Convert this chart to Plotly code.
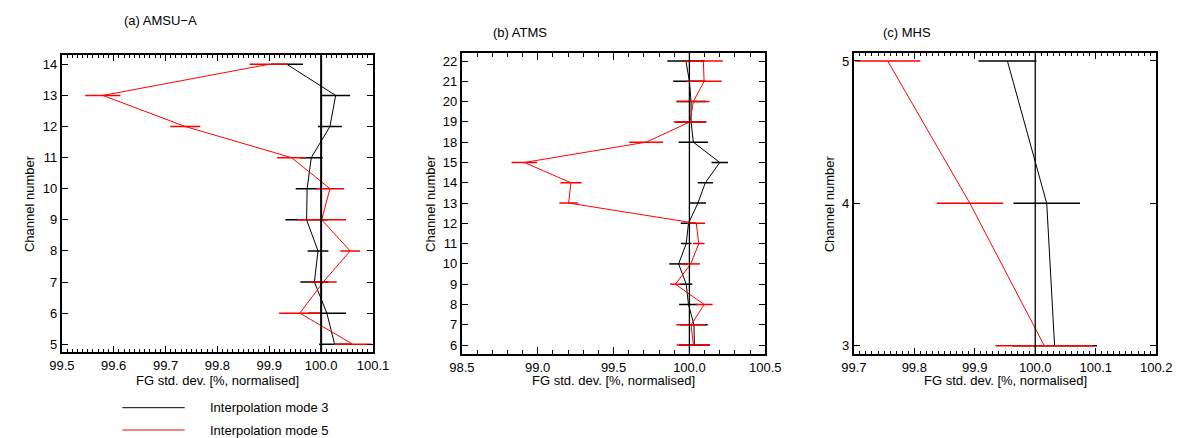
import plotly.graph_objects as go

# ---------------- data ----------------
# (a) AMSU-A
channels_a = [5, 6, 7, 8, 9, 10, 11, 12, 13, 14]
mode3_a = [100.026, 100.011, 99.987, 99.994, 99.972, 99.973, 99.981, 100.017, 100.028, 99.934]
err3_a = [0.030, 0.037, 0.027, 0.020, 0.041, 0.022, 0.022, 0.023, 0.028, 0.031]
mode5_a = [100.061, 99.959, 100.004, 100.056, 100.001, 100.017, 99.943, 99.738, 99.579, 99.899]
err5_a = [0.036, 0.040, 0.026, 0.019, 0.047, 0.027, 0.028, 0.029, 0.034, 0.037]

# (b) ATMS
channels_b = ["6", "7", "8", "9", "10", "11", "12", "13", "14", "15", "18", "19", "20", "21", "22"]
mode3_b = [100.033, 100.030, 99.994, 99.979, 99.929, 99.979, 99.994, 100.056, 100.105, 100.200,
           100.026, 100.011, 100.011, 100.000, 99.977]
err3_b = [0.102, 0.091, 0.062, 0.040, 0.062, 0.035, 0.051, 0.054, 0.050, 0.054,
          0.097, 0.100, 0.097, 0.107, 0.123]
mode5_b = [100.026, 100.011, 100.097, 99.908, 100.009, 100.062, 100.045, 99.204, 99.219, 98.912,
           99.715, 100.004, 100.026, 100.097, 100.092]
err5_b = [0.110, 0.097, 0.056, 0.035, 0.061, 0.038, 0.059, 0.061, 0.070, 0.084,
          0.112, 0.107, 0.107, 0.116, 0.128]

# (c) MHS
channels_c = [3, 4, 5]
mode3_c = [100.032, 100.019, 99.954]
err3_c = [0.070, 0.055, 0.048]
mode5_c = [100.015, 99.892, 99.756]
err5_c = [0.081, 0.055, 0.054]

titles = ["(a) AMSU\u2212A", "(b) ATMS", "(c) MHS"]
legend_labels = ["Interpolation mode 3", "Interpolation mode 5"]
x_title = "FG std. dev. [%, normalised]"
y_title = "Channel number"

# ---------------- figure ----------------
W, H = 1194, 438
FONT = "Liberation Sans, Arial, Helvetica, sans-serif"
fig = go.Figure()

def px_x(p):
    return p / W

def px_y(p):
    return 1 - p / H

panels = [
    dict(xa="x", ya="y", dom_x=(50, 369), dom_y=(55, 352),
         ch=channels_a, m3=mode3_a, e3=err3_a, m5=mode5_a, e5=err5_a),
    dict(xa="x2", ya="y2", dom_x=(460, 771), dom_y=(52.7, 354),
         ch=channels_b, m3=mode3_b, e3=err3_b, m5=mode5_b, e5=err5_b),
    dict(xa="x3", ya="y3", dom_x=(861.7, 1171.7), dom_y=(53.3, 354),
         ch=channels_c, m3=mode3_c, e3=err3_c, m5=mode5_c, e5=err5_c),
]

for p in panels:
    for vals, errs, col in [(p["m3"], p["e3"], "black"), (p["m5"], p["e5"], "red")]:
        fig.add_trace(go.Scatter(
            x=vals, y=p["ch"], xaxis=p["xa"], yaxis=p["ya"], mode="lines",
            line=dict(color=col, width=1),
            error_x=dict(type="data", array=errs, visible=True, color=col,
                         thickness=1.5, width=0),
            showlegend=False, hoverinfo="skip"))

common_axis = dict(showline=True, linecolor="black", linewidth=2, mirror="ticks",
                   ticks="inside", tickcolor="black", tickwidth=1.2,
                   showgrid=False, zeroline=False,
                   tickfont=dict(family=FONT, size=13, color="black"))

# x axes
fig.update_layout(
    xaxis=dict(common_axis, domain=[px_x(50), px_x(369)], anchor="y",
               range=[99.4999, 100.1001], tick0=99.5, dtick=0.1, tickformat=".1f", ticklen=6,
               minor=dict(dtick=0.01, tick0=99.5, ticklen=3, ticks="inside", tickcolor="black", tickwidth=1)),
    xaxis2=dict(common_axis, domain=[px_x(460), px_x(771)], anchor="y2",
                range=[98.4999, 100.5001], tick0=98.5, dtick=0.5, tickformat=".1f", ticklen=7,
                minor=dict(dtick=0.1, tick0=98.5, ticklen=4, ticks="inside", tickcolor="black", tickwidth=1)),
    xaxis3=dict(common_axis, domain=[px_x(861.7), px_x(1171.7)], anchor="y3",
                range=[99.6999, 100.2001], tick0=99.7, dtick=0.1, tickformat=".1f", ticklen=6,
                minor=dict(dtick=0.01, tick0=99.7, ticklen=3, ticks="inside", tickcolor="black", tickwidth=1)),
    yaxis=dict(common_axis, domain=[px_y(352), px_y(55)], anchor="x",
               range=[4.75, 14.3], dtick=1, ticklen=6),
    yaxis2=dict(common_axis, domain=[px_y(354), px_y(52.7)], anchor="x2",
                type="category", categoryorder="array", categoryarray=channels_b,
                range=[-0.44, 14.41], ticklen=6),
    yaxis3=dict(common_axis, domain=[px_y(354), px_y(53.3)], anchor="x3",
                range=[2.942, 5.054], dtick=1, ticklen=6),
)

# reference lines at 100 %
for xa, ya, w in [("x", "y", 2), ("x2", "y2", 1.3), ("x3", "y3", 1.3)]:
    fig.add_shape(type="line", xref=xa, yref=ya + " domain", x0=100, x1=100, y0=0, y1=1,
                  line=dict(color="black", width=w), layer="above")

ann = []
# panel titles
for t, x, y in [(titles[0], 112, 21), (titles[1], 490, 32), (titles[2], 890, 32)]:
    ann.append(dict(text=t, x=px_x(x), y=px_y(y), xref="paper", yref="paper",
                    xanchor="left", yanchor="middle", showarrow=False,
                    font=dict(family=FONT, size=13, color="black")))
# axis titles
for p, yx in zip(panels, [17, 428, 837]):
    cx = (p["dom_x"][0] + p["dom_x"][1]) / 2
    cy = (p["dom_y"][0] + p["dom_y"][1]) / 2
    ann.append(dict(text=x_title, x=px_x(cx), y=px_y(380.5), xref="paper", yref="paper",
                    xanchor="center", yanchor="middle", showarrow=False,
                    font=dict(family=FONT, size=13, color="black")))
    ann.append(dict(text=y_title, x=px_x(yx), y=px_y(cy), xref="paper", yref="paper",
                    xanchor="center", yanchor="middle", showarrow=False, textangle=-90,
                    font=dict(family=FONT, size=13, color="black")))
# legend
for lab, col, ly in [(legend_labels[0], "black", 407.7), (legend_labels[1], "red", 430)]:
    fig.add_shape(type="line", xref="paper", yref="paper", x0=px_x(112), x1=px_x(176),
                  y0=px_y(ly), y1=px_y(ly), line=dict(color=col, width=1))
    ann.append(dict(text=lab, x=px_x(200), y=px_y(ly), xref="paper", yref="paper",
                    xanchor="left", yanchor="middle", showarrow=False,
                    font=dict(family=FONT, size=13, color="black")))

fig.update_layout(
    annotations=ann,
    width=W, height=H,
    margin=dict(l=0, r=0, t=0, b=0),
    paper_bgcolor="white", plot_bgcolor="white",
    font=dict(family=FONT, size=13, color="black"),
)

fig.write_html(
    "out.html",
    post_script=("document.documentElement.style.margin='0';"
                 "document.documentElement.style.overflow='hidden';"
                 "document.body.style.margin='0';"
                 "document.body.style.padding='0';"
                 "document.body.style.overflow='hidden';"),
    config={"displayModeBar": False, "responsive": False},
)
